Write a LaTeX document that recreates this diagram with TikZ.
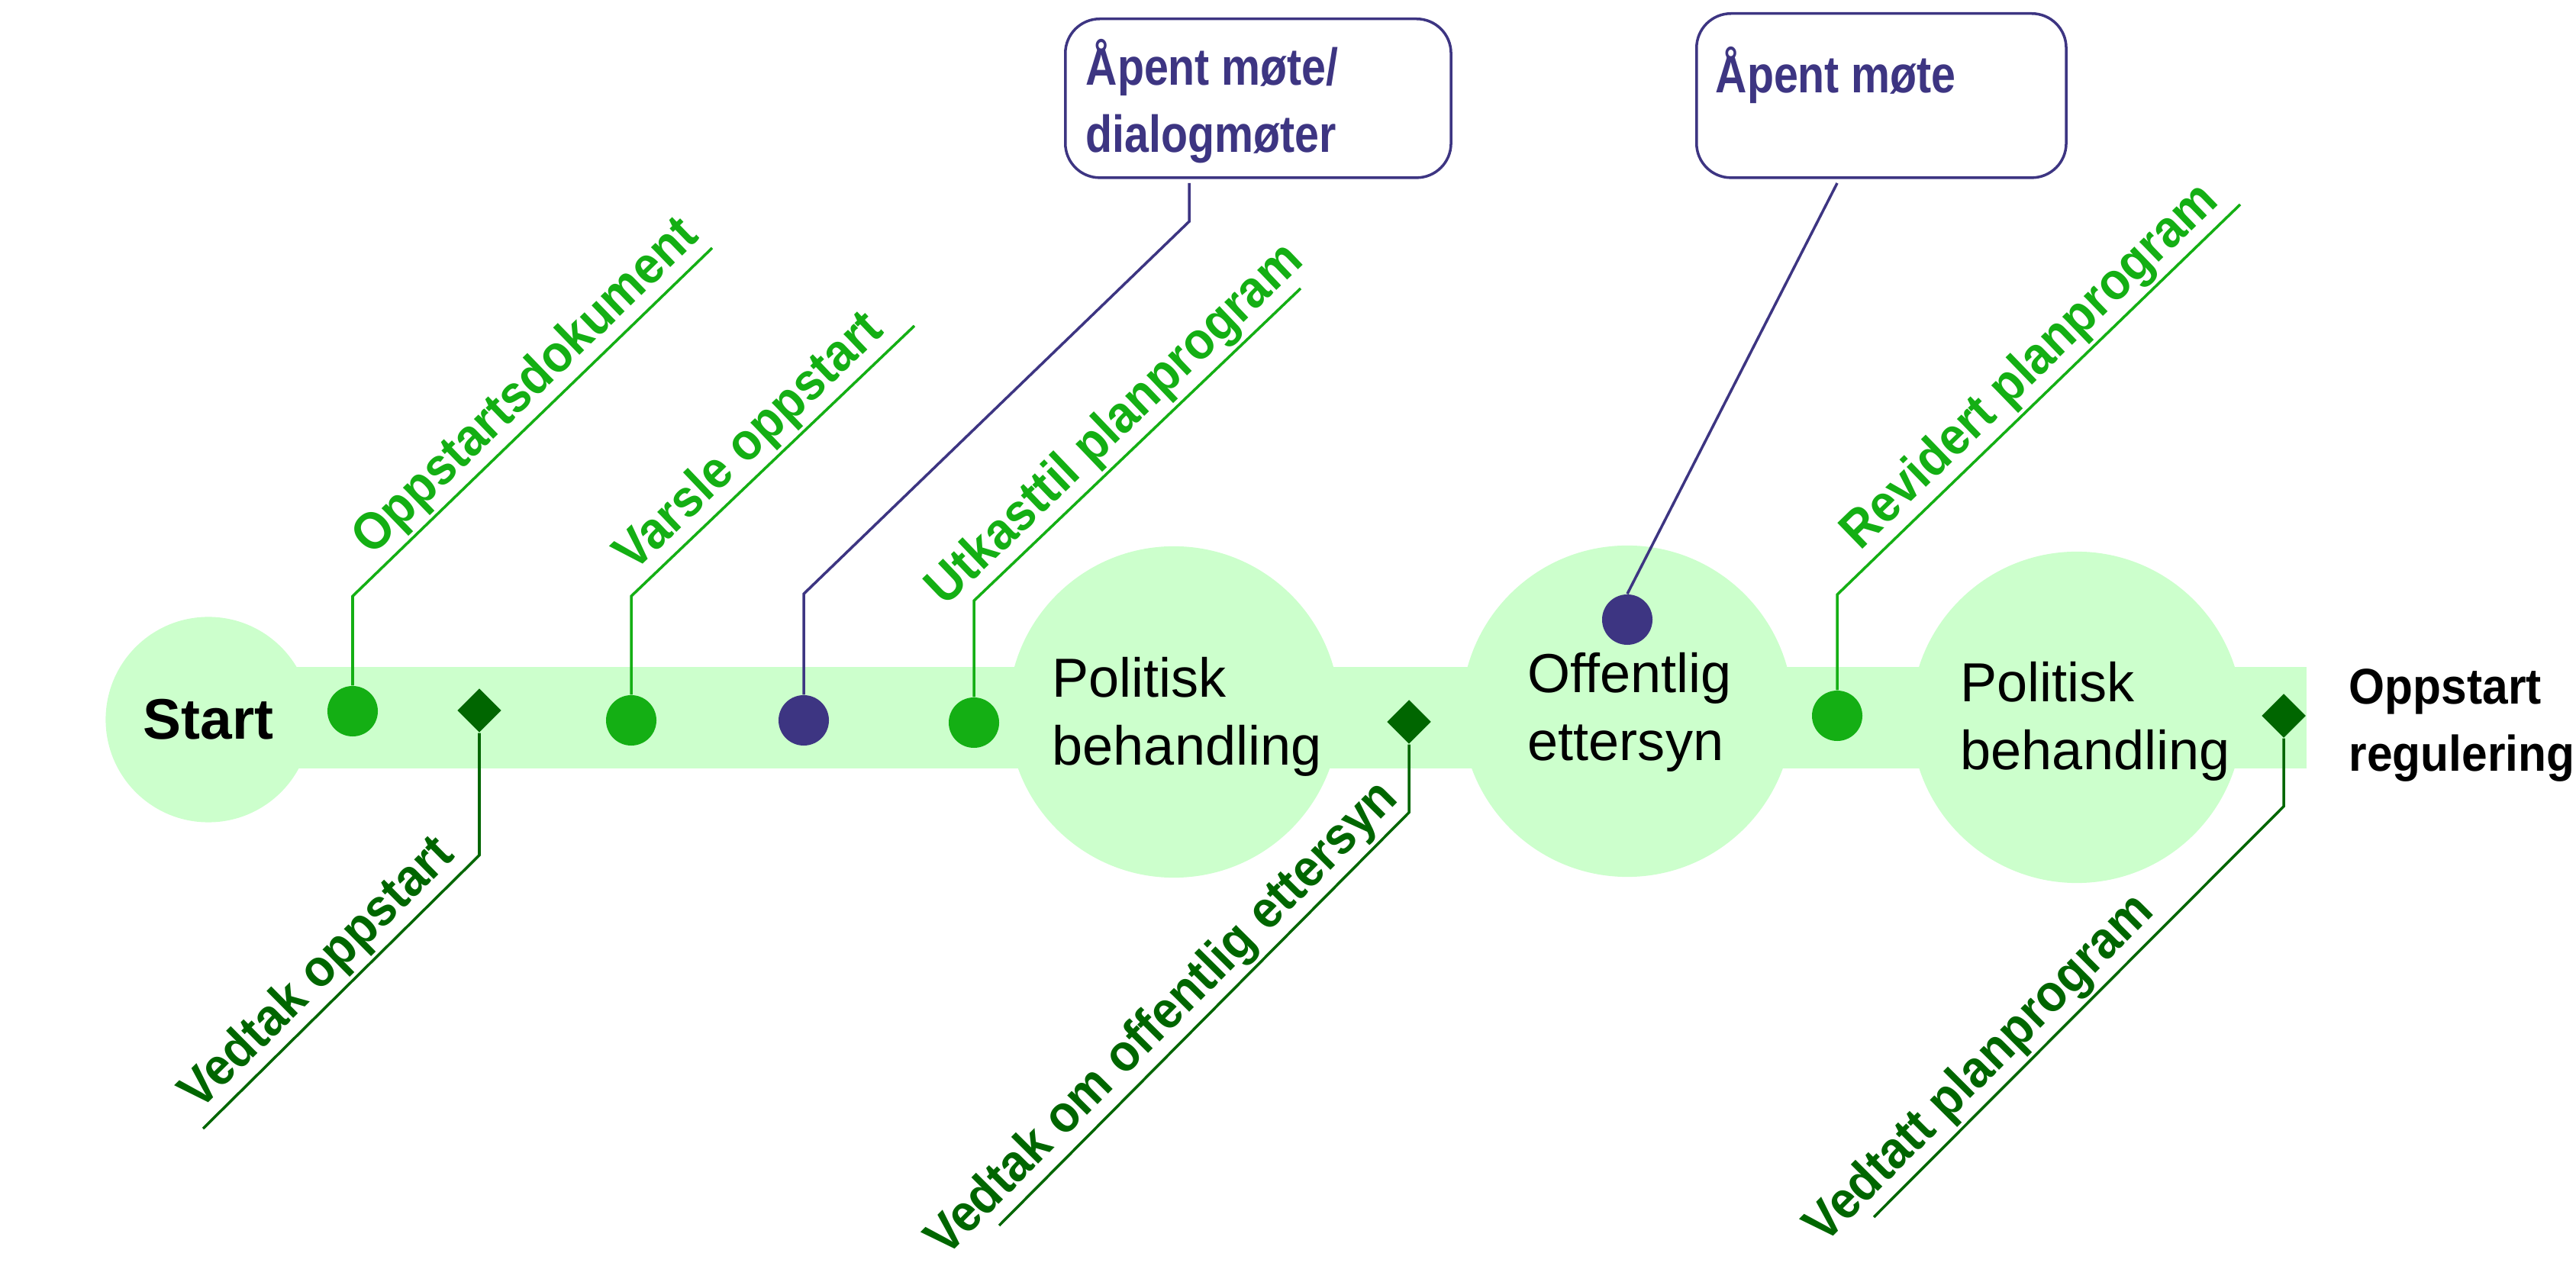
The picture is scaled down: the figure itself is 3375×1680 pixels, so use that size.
\documentclass[tikz,border=0pt]{standalone}
\usepackage{fontspec}
\setmainfont{Liberation Sans}
\newfontfamily\narrowfont[FakeStretch=0.84]{Liberation Sans}
\newfontfamily\semifont[FakeStretch=0.92]{Liberation Sans}
\usetikzlibrary{shapes.geometric}
\definecolor{mintband}{HTML}{CCFFCC}
\definecolor{leafgreen}{HTML}{14AF14}
\definecolor{darkleaf}{HTML}{006600}
\definecolor{inkblue}{HTML}{3D3582}

\begin{document}
\begin{tikzpicture}[
            x=0.01cm, y=-0.01cm,
            stage/.style={circle, fill=mintband, inner sep=0pt},
            stagetext/.style={align=left, inner sep=0pt, anchor=base west,
                        font=\fontsize{20.5}{25.5}\selectfont},
            milestone/.style={circle, fill=#1, inner sep=0pt, minimum size=0.66cm},
            vedtak/.style={diamond, fill=darkleaf, inner sep=0pt, minimum size=0.58cm},
            meeting/.style={rectangle, draw=inkblue, line width=1pt, rounded corners=0.45cm,
                        anchor=north west},
            meetingtext/.style={align=left, inner sep=0pt, anchor=base west, text=inkblue,
                        font=\narrowfont\bfseries\fontsize{19.4}{25.3}\selectfont},
            upleader/.style={draw=leafgreen, line width=1pt},
            downleader/.style={draw=darkleaf, line width=1pt},
            blueleader/.style={draw=inkblue, line width=1pt},
            uplabel/.style={sloped, above, inner sep=1pt, text=leafgreen,
                        font=\semifont\bfseries\fontsize{19.5}{22}\selectfont},
            downlabel/.style={sloped, above, inner sep=1pt, text=darkleaf,
                        font=\semifont\bfseries\fontsize{19.5}{22}\selectfont}
        ]
            \useasboundingbox (0,0) rectangle (3375,1680);
            \fill[mintband] (273,874) rectangle (3022,1007);

            \node[stage, minimum size=2.69cm, font=\bfseries\fontsize{21.3}{25}\selectfont] (start) at (273,943) {Start};
            \node[stage, minimum size=4.34cm] (pol1) at (1538,933) {};
            \node[stage, minimum size=4.34cm] (ettersyn) at (2132,932) {};
            \node[stage, minimum size=4.34cm] (pol2) at (2721,940) {};

            \node[stagetext] (pol1txt) at (1378,1003) {Politisk\\behandling};
            \node[stagetext] (ettersyntxt) at (2001,997) {Offentlig\\ettersyn};
            \node[stagetext] (pol2txt) at (2568,1009) {Politisk\\behandling};
            \node[stagetext, font=\semifont\bfseries\fontsize{18.7}{25.3}\selectfont] (regulering) at (3077,1011) {Oppstart\\regulering};

            \node[meeting, minimum width=5.05cm, minimum height=2.08cm] (mote1) at (1394,23) {};
            \node[meeting, minimum width=4.84cm, minimum height=2.15cm] (mote2) at (2221,16) {};
            \node[meetingtext] (mote1txt) at (1422,200) {Åpent møte/\\dialogmøter};
            \node[meetingtext] (mote2txt) at (2247,122) {Åpent møte};

            \node[milestone=leafgreen] (dok) at (462,932) {};
            \node[milestone=leafgreen] (varsle) at (827,944) {};
            \node[milestone=inkblue] (dialog) at (1053,944) {};
            \node[milestone=leafgreen] (utkast) at (1276,947) {};
            \node[milestone=inkblue] (aapent) at (2132,812) {};
            \node[milestone=leafgreen] (revidert) at (2407,938) {};
            \node[vedtak] (v1) at (628,931) {};
            \node[vedtak] (v2) at (1846,946) {};
            \node[vedtak] (v3) at (2992,938) {};

            \coordinate (dokend) at (933,325);
            \coordinate (varsleend) at (1198,427);
            \coordinate (utkastend) at (1704,378);
            \coordinate (revidertend) at (2935,268);
            \coordinate (dialogend) at (1558,240);
            \coordinate (aapentend) at (2407,240);
            \coordinate (v1end) at (266,1479);
            \coordinate (v2end) at (1309,1606);
            \coordinate (v3end) at (2455,1595);
            \path (v1.south) ++(0,160) coordinate (v1bend);
            \path (v2.south) ++(0,89) coordinate (v2bend);
            \path (v3.south) ++(0,89) coordinate (v3bend);

            \draw[upleader] (dok.north) -- ++(0,-117) -- (dokend) node[uplabel, pos=.54] {Oppstartsdokument};
            \draw[upleader] (varsle.north) -- ++(0,-129) -- (varsleend) node[uplabel, pos=.49] {Varsle oppstart};
            \draw[upleader] (utkast.north) -- ++(0,-126) -- (utkastend) node[uplabel, pos=.495] {Utkasttil planprogram};
            \draw[upleader] (revidert.north) -- ++(0,-125) -- (revidertend) node[uplabel, pos=.53] {Revidert planprogram};
            \draw[blueleader] (dialog.north) -- ++(0,-132) -- ++(505,-488) -- (dialogend);
            \draw[blueleader] (aapent.north) -- (aapentend);
            \draw[downleader] (v1end) -- node[downlabel, pos=.49] {Vedtak oppstart} (v1bend) -- (v1.south);
            \draw[downleader] (v2end) -- node[downlabel, pos=.45] {Vedtak om offentlig ettersyn} (v2bend) -- (v2.south);
            \draw[downleader] (v3end) -- node[downlabel, pos=.31] {Vedtatt planprogram} (v3bend) -- (v3.south);
        \end{tikzpicture}
\end{document}
